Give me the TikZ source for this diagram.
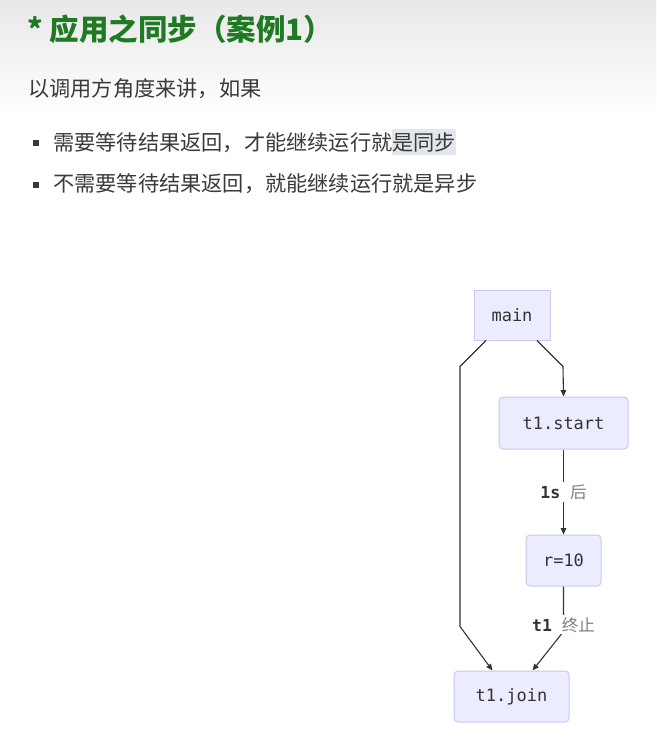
\documentclass[tikz,border=0pt]{standalone}
\usepackage{fontspec}
\usepackage{xcolor}
\usepackage{tikz}
\usetikzlibrary{arrows.meta,positioning}
\setmainfont{Noto Sans CJK SC}
\setmonofont{DejaVu Sans Mono}
\newfontfamily\cjk{Noto Sans CJK SC}

\definecolor{titlegreen}{RGB}{32,122,36}
\definecolor{bodytext}{RGB}{58,58,58}
\definecolor{boxfill}{RGB}{236,236,255}
\definecolor{boxline}{RGB}{204,198,240}
\definecolor{edgeline}{RGB}{51,51,51}
\definecolor{hilite}{RGB}{226,231,238}

\newcommand\hilight[1]{\begingroup\setlength{\fboxsep}{0pt}%
  \colorbox{hilite}{\rule[-0.22em]{0pt}{1.25em}#1}\endgroup}

\begin{document}
\begin{tikzpicture}[x=1pt, y=-1pt,
  box/.style  ={rectangle, draw=boxline, fill=boxfill, line width=1pt,
                rounded corners=4pt, text=edgeline, inner sep=0pt,
                font=\ttfamily\fontsize{17}{19}\selectfont,
                minimum height=51pt},
  body/.style ={anchor=west, inner sep=0pt, text=bodytext,
                font=\cjk\fontsize{21.2}{24}\selectfont},
  dot/.style  ={rectangle, fill=bodytext, inner sep=0pt,
                minimum size=6pt},
  lbl/.style  ={fill=white, inner sep=2pt, text=edgeline,
                font=\ttfamily\bfseries\fontsize{16.5}{19}\selectfont},
  flow/.style ={-{Triangle[length=6.5pt,width=5.5pt]}, line width=1.1pt,
                edgeline},
]
\useasboundingbox (0,0) rectangle (656,738);
\fill[white] (0,0) rectangle (656,738);
\shade[top color=gray!18, bottom color=white] (0,0) rectangle (656,118);

% === Text ===
\node[anchor=west, inner sep=0pt, text=titlegreen,
      font=\cjk\bfseries\fontsize{29.5}{32}\selectfont] (title) at (27,29)
  {* 应用之同步（案例1）};
\node[body] (intro) at (28,89) {以调用方角度来讲，如果};
\node[dot] (b1) at (36,143) {};
\node[body] (sync) at (53,142) {需要等待结果返回，才能继续运行就\hilight{是同步}};
\node[dot] (b2) at (36,185) {};
\node[body] (async) at (53,184) {不需要等待结果返回，就能继续运行就是异步};

% === Flow ===
\node[box, sharp corners, minimum width=76pt, minimum height=50pt] (main)
  at (512,315) {main};
\node[box, minimum width=129pt, minimum height=52pt] (tstart)
  at (563.5,423) {t1.start};
\node[box, minimum width=75pt, below=85pt of tstart] (rten) {r=10};
\node[box, minimum width=115pt] (tjoin) at (511.5,696.5) {t1.join};

% === Calls ===
\draw[flow] ([xshift=25pt]main.south) -- ++(26,26) -- (tstart.north);
\draw[flow] (tstart) -- node[lbl]{1s {\cjk\mdseries\color{gray}后}} (rten);
\draw[flow] (rten) -- node[lbl, pos=0.85]{t1 {\cjk\mdseries\color{gray}终止}}
  ++(0,71) -- ([xshift=21pt]tjoin.north);
\draw[flow] ([xshift=-26pt]main.south) -- ++(-26,26) -- ++(0,260)
  -- ([xshift=-19pt]tjoin.north);

\end{tikzpicture}
\end{document}
